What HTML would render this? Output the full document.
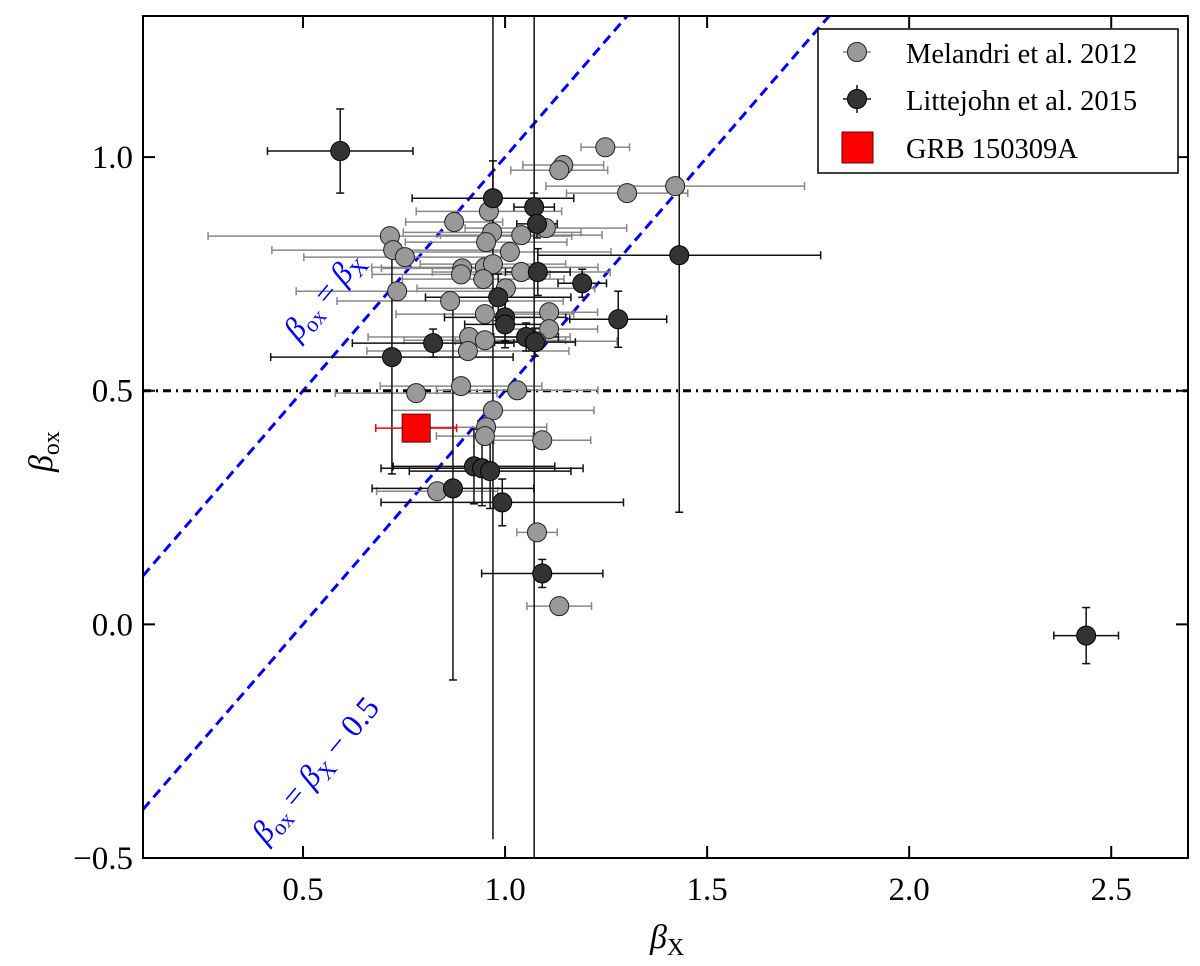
<!DOCTYPE html>
<html><head><meta charset="utf-8"><style>
body{margin:0;background:#fff}
svg{display:block;font-family:"Liberation Serif",serif}
</style></head><body>
<svg id="chart" width="1200" height="966"></svg>
<script>
const melX=[1.248,1.144,1.134,1.302,1.421,0.874,0.960,0.968,1.101,1.012,0.953,0.715,0.723,0.752,0.894,0.891,0.950,0.970,0.946,1.002,1.040,1.040,0.733,0.864,0.950,1.109,1.109,0.911,0.950,0.908,1.077,1.030,0.891,0.780,0.970,0.953,0.950,1.092,0.832,1.079,1.134];
const melY=[1.021,0.983,0.972,0.923,0.938,0.861,0.884,0.839,0.848,0.797,0.818,0.831,0.801,0.786,0.762,0.749,0.764,0.771,0.739,0.719,0.754,0.833,0.713,0.692,0.664,0.668,0.632,0.615,0.608,0.585,0.606,0.501,0.510,0.495,0.458,0.422,0.403,0.394,0.285,0.197,0.039];
const melXerr=[0.06,0.1,0.12,0.15,0.32,0.12,0.18,0.22,0.2,0.25,0.2,0.45,0.3,0.25,0.2,0.22,0.28,0.18,0.2,0.22,0.22,0.2,0.25,0.28,0.22,0.12,0.12,0.25,0.2,0.25,0.2,0.2,0.2,0.2,0.25,0.15,0.12,0.12,0.15,0.05,0.08];
const litX=[0.592,0.970,1.072,1.079,1.081,1.191,1.431,0.983,1.000,1.000,1.052,1.074,1.280,0.822,0.720,0.923,0.943,0.963,0.871,0.993,1.092,2.438];
const litY=[1.013,0.912,0.893,0.857,0.754,0.730,0.790,0.700,0.657,0.642,0.615,0.604,0.653,0.602,0.572,0.338,0.334,0.328,0.291,0.261,0.109,-0.024];
const litXerr=[0.18,0.2,0.05,0.05,0.08,0.06,0.35,0.18,0.15,0.1,0.08,0.1,0.12,0.2,0.3,0.2,0.25,0.2,0.2,0.3,0.15,0.08];
const litYlo=[0.09,0.08,0.03,0.03,0.05,0.03,0.55,0.05,0.05,0.05,0.03,0.03,0.06,0.03,0.25,0.08,0.08,0.08,0.41,0.05,0.03,0.06];
const litYhi=[0.09,0.08,0.03,0.03,0.05,0.03,0.6,0.05,0.05,0.05,0.03,0.03,0.06,0.03,0.25,0.08,0.08,0.08,0.4,0.05,0.03,0.06];
const grbX=[0.78],grbY=[0.42],grbXerr=[0.1];
const bigVX=[0.970,1.072],bigVLo=[-0.46,-0.5],bigVHi=[1.35,1.35];
const xTicks=[0.5,1.0,1.5,2.0,2.5],yTicks=[-0.5,0.0,0.5,1.0];
const xMin=0.104,xMax=2.69,yMin=-0.5,yMax=1.302;
const L=143,R=1188,T=16,B=858;
const sx=v=>L+(v-xMin)/(xMax-xMin)*(R-L);
const sy=v=>B-(v-yMin)/(yMax-yMin)*(B-T);
const svg=document.getElementById('chart');const NS='http://www.w3.org/2000/svg';
function mk(t,a,p){const e=document.createElementNS(NS,t);for(const k in a)e.setAttribute(k,a[k]);(p||svg).appendChild(e);return e;}
function beta(el,sub,size,extra){const b=mk('tspan',{'font-style':'italic'},el);b.textContent='β';
 const s=mk('tspan',{'font-size':size*0.7,dy:size*0.2},el);s.textContent=sub;
 if(extra){const x=mk('tspan',{dy:-size*0.2},el);x.textContent=extra;}}
const clip=mk('clipPath',{id:'c'});mk('rect',{x:L,y:T,width:R-L,height:B-T},clip);
const g=mk('g',{'clip-path':'url(#c)'});
let e;
e=mk('line',{x1:sx(xMin),y1:sy(xMin),x2:sx(1.4),y2:sy(1.4),stroke:'#00f','stroke-width':3,'stroke-dasharray':'10,6'},g);

e=mk('line',{x1:sx(xMin),y1:sy(xMin-0.5),x2:sx(1.9),y2:sy(1.4),stroke:'#00f','stroke-width':3,'stroke-dasharray':'10,6'},g);

e=mk('line',{x1:L,y1:sy(0.5),x2:R,y2:sy(0.5),stroke:'#000','stroke-width':3,'stroke-dasharray':'8,5,2,5'},g);

function xbar(x,y,er,c,w){mk('line',{x1:sx(x-er),y1:sy(y),x2:sx(x+er),y2:sy(y),stroke:c,'stroke-width':w},g);
 [x-er,x+er].forEach(v=>mk('line',{x1:sx(v),y1:sy(y)-4,x2:sx(v),y2:sy(y)+4,stroke:c,'stroke-width':w},g));}
melX.forEach((x,i)=>xbar(x,melY[i],melXerr[i],'#888',1.5));
bigVX.forEach((x,i)=>mk('line',{x1:sx(x),y1:sy(bigVLo[i]),x2:sx(x),y2:sy(bigVHi[i]),stroke:'#111','stroke-width':1.5},g));
litX.forEach((x,i)=>{xbar(x,litY[i],litXerr[i],'#111',1.5);
 mk('line',{x1:sx(x),y1:sy(litY[i]-litYlo[i]),x2:sx(x),y2:sy(litY[i]+litYhi[i]),stroke:'#111','stroke-width':1.5},g);
 [litY[i]-litYlo[i],litY[i]+litYhi[i]].forEach(v=>mk('line',{x1:sx(x)-4,y1:sy(v),x2:sx(x)+4,y2:sy(v),stroke:'#111','stroke-width':1.5},g));});
melX.forEach((x,i)=>{const c=mk('circle',{cx:sx(x),cy:sy(melY[i]),r:9.5,fill:'#999',stroke:'#222','stroke-width':1},g);
});
litX.forEach((x,i)=>{const c=mk('circle',{cx:sx(x),cy:sy(litY[i]),r:9.5,fill:'#333',stroke:'#000','stroke-width':1},g);
});
grbX.forEach((x,i)=>{xbar(x,grbY[i],grbXerr[i],'#f00',1.5);
const r=mk('rect',{x:sx(x)-14,y:sy(grbY[i])-14,width:28,height:28,fill:'#f00',stroke:'#600','stroke-width':1},g);
});
// line labels
e=mk('text',{x:0,y:0,fill:'#00f','font-size':32,transform:`translate(298,342) rotate(-50)`});
beta(e,'ox',32,' = ');beta(e,'X',32);

e=mk('text',{x:0,y:0,fill:'#00f','font-size':32,transform:`translate(266,845) rotate(-50)`});
beta(e,'ox',32,' = ');beta(e,'X',32,' − 0.5');

// frame & ticks
e=mk('rect',{x:L,y:T,width:R-L,height:B-T,fill:'none',stroke:'#000','stroke-width':2});

xTicks.forEach(v=>{mk('line',{x1:sx(v),y1:B,x2:sx(v),y2:B-12,stroke:'#000','stroke-width':2});mk('line',{x1:sx(v),y1:T,x2:sx(v),y2:T+12,stroke:'#000','stroke-width':2});
const t=mk('text',{x:sx(v),y:B+42,'text-anchor':'middle','font-size':33});t.textContent=v.toFixed(1);
});
yTicks.forEach(v=>{mk('line',{x1:L,y1:sy(v),x2:L+12,y2:sy(v),stroke:'#000','stroke-width':2});mk('line',{x1:R,y1:sy(v),x2:R-12,y2:sy(v),stroke:'#000','stroke-width':2});
const t=mk('text',{x:L-10,y:sy(v)+11,'text-anchor':'end','font-size':33});t.textContent=(v<0?'−':'')+Math.abs(v).toFixed(1);
});
e=mk('text',{x:650,y:948,'font-size':34});beta(e,'X',34);

e=mk('text',{x:0,y:0,'font-size':34,transform:'translate(52,472) rotate(-90)'});beta(e,'ox',34);

// legend
const lg=mk('g',{});
mk('rect',{x:818,y:29,width:360,height:144,fill:'#fff',stroke:'#000','stroke-width':1.5},lg);
mk('line',{x1:843,y1:52,x2:871,y2:52,stroke:'#888','stroke-width':1.5},lg);
mk('circle',{cx:857,cy:52,r:9.5,fill:'#999',stroke:'#222'},lg);
mk('line',{x1:843,y1:99,x2:871,y2:99,stroke:'#111','stroke-width':1.5},lg);
mk('line',{x1:857,y1:85,x2:857,y2:113,stroke:'#111','stroke-width':1.5},lg);
mk('circle',{cx:857,cy:99,r:9.5,fill:'#333',stroke:'#000'},lg);
mk('rect',{x:842,y:132,width:31,height:31,fill:'#f00',stroke:'#600'},lg);
[['Melandri et al. 2012',63],['Littejohn et al. 2015',110],['GRB 150309A',158]].forEach(([s,y])=>{const t=mk('text',{x:906,y:y,'font-size':28.5},lg);t.textContent=s;
});
</script>
</body></html>
